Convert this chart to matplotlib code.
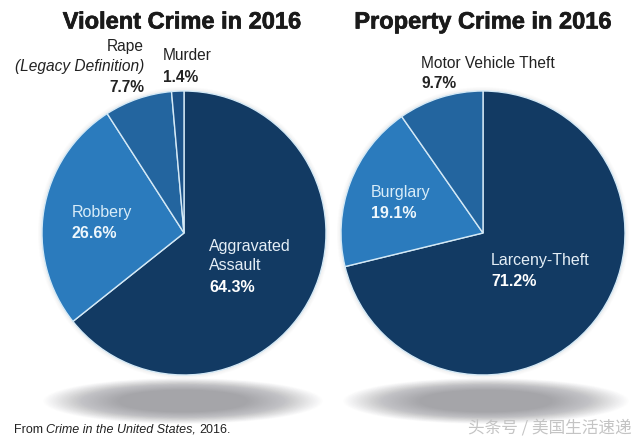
import matplotlib
matplotlib.use("Agg")
import matplotlib.pyplot as plt
import matplotlib.patheffects as pe
from matplotlib.patches import Ellipse

plt.rcParams['font.family'] = ['Liberation Sans', 'Noto Sans CJK SC', 'DejaVu Sans']

# Data
violent_labels = ["Aggravated Assault", "Robbery", "Rape", "Murder"]
violent_values = [64.3, 26.6, 7.7, 1.4]
property_labels = ["Larceny-Theft", "Burglary", "Motor Vehicle Theft"]
property_values = [71.2, 19.1, 9.7]

violent_colors = ["#123a63", "#2b7bbd", "#23659f", "#1c5288"]
property_colors = ["#123a63", "#2b7bbd", "#23659f"]

W, H = 640, 441


def py(y):
    # image pixels run downwards, the axes run upwards
    return H - y


def draw_shadow(ax, cx, cy, w, h):
    # stacked see-through ellipses give the soft floor shadow
    steps = 60
    for i in range(steps):
        f = 1 - 0.55 * i / steps
        ax.add_patch(Ellipse((cx, py(cy)), w * f, h * f, color="#a0a0a4",
                             alpha=0.012 + 0.03 * i / steps, lw=0, zorder=1))


def draw_halo(ax, cx, cy, r):
    for i in range(4):
        d = 2 * r + 8 - 2 * i
        ax.add_patch(Ellipse((cx, py(cy)), d, d, color="#bdbdbd",
                             alpha=0.05, lw=0, zorder=1))


def draw_pie(ax, values, colors, cx, cy, r):
    draw_halo(ax, cx, cy, r)
    wedges, _ = ax.pie(values, colors=colors, startangle=90, counterclock=False,
                       center=(cx, py(cy)), radius=r, frame=True,
                       wedgeprops={"edgecolor": "#d4e9f6", "linewidth": 1.0})
    for w in wedges:
        w.set_zorder(3)


def label(ax, x, y, s, color="#222222", weight="normal", style="normal", ha="left", size=11.2):
    ax.text(x, py(y), s, color=color, fontweight=weight, fontstyle=style, ha=ha,
            va="center", fontsize=size, zorder=5)


fig = plt.figure(figsize=(W / 100, H / 100), dpi=100, facecolor="white")
ax = fig.add_axes([0, 0, 1, 1])

draw_shadow(ax, 183, 401, 280, 46)
draw_shadow(ax, 486, 401, 286, 46)
draw_pie(ax, violent_values, violent_colors, 184, 233, 142)
draw_pie(ax, property_values, property_colors, 483, 233, 142)

ax.set_xlim(0, W)
ax.set_ylim(0, H)
ax.set_aspect("equal")
ax.axis("off")

# Titles
heavy = [pe.withStroke(linewidth=0.5, foreground="#1a1a1a")]
ax.text(182, py(22), "Violent Crime in 2016", fontsize=17, fontweight="bold",
        color="#1a1a1a", ha="center", va="center", path_effects=heavy)
ax.text(483, py(22), "Property Crime in 2016", fontsize=17, fontweight="bold",
        color="#1a1a1a", ha="center", va="center", path_effects=heavy)

# Outside labels
label(ax, 144, 46, "Rape", ha="right")
label(ax, 144, 66, "(Legacy Definition)", ha="right", style="italic")
label(ax, 144, 87, "7.7%", ha="right", weight="bold")
label(ax, 163, 56, "Murder")
label(ax, 163, 77, "1.4%", weight="bold")
label(ax, 421, 63, "Motor Vehicle Theft")
label(ax, 421, 84, "9.7%", weight="bold")

# Inside labels
label(ax, 72, 213, "Robbery", color="#d8ecf8", size=11.5)
label(ax, 72, 234, "26.6%", color="#eef7fc", weight="bold", size=11.5)
label(ax, 209, 246, "Aggravated", color="#e4eef6", size=11.5)
label(ax, 209, 266, "Assault", color="#e4eef6", size=11.5)
label(ax, 209, 287, "64.3%", color="#ffffff", weight="bold", size=11.5)
label(ax, 371, 193, "Burglary", color="#d8ecf8", size=11.5)
label(ax, 371, 214, "19.1%", color="#eef7fc", weight="bold", size=11.5)
label(ax, 491, 261, "Larceny-Theft", color="#e4eef6", size=11.5)
label(ax, 491, 282, "71.2%", color="#ffffff", weight="bold", size=11.5)

# Source note and watermark
ax.text(14, py(433), "From", fontsize=9, color="#222222", va="baseline")
ax.text(46, py(433), "Crime in the United States,", fontsize=9, fontstyle="italic",
        color="#222222", va="baseline")
ax.text(199, py(433), "2016.", fontsize=9, color="#222222", va="baseline")
ax.text(632, py(428), "头条号 / 美国生活速递", fontsize=12, color="#c4c4c4",
        ha="right", va="center", family=["Noto Sans CJK SC", "DejaVu Sans"])

fig.savefig("out.png", dpi=100)
